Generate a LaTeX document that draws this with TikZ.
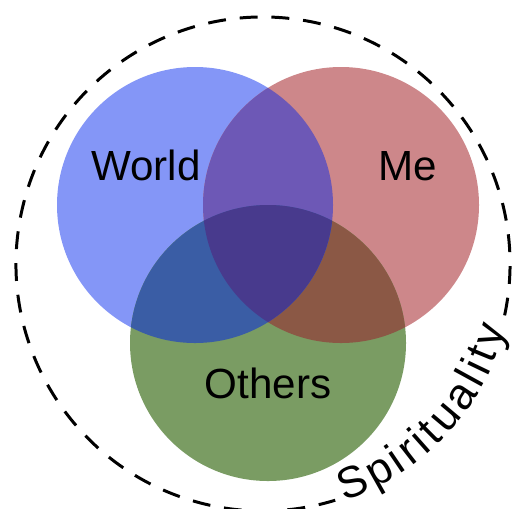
\documentclass[tikz,border=0pt]{standalone}
\usepackage{fontspec}
\setmainfont{Liberation Sans}
\usepackage{tikz}
\usetikzlibrary{decorations.text}
\definecolor{worldblue}{RGB}{132,150,247}
\definecolor{mered}{RGB}{205,135,138}
\definecolor{othersgreen}{RGB}{122,156,99}
\definecolor{worldme}{RGB}{109,88,182}
\definecolor{worldothers}{RGB}{58,93,165}
\definecolor{meothers}{RGB}{139,88,69}
\definecolor{allthree}{RGB}{72,58,141}
\newcommand{\spiritfont}{\fontsize{25}{30}\selectfont}
\tikzset{vennlabel/.style={anchor=base, inner sep=0pt, font=\fontsize{24}{28}\selectfont, text=black}, spiritline/.style={draw=black, line width=1.7pt, dash pattern=on 10.2pt off 7.9pt}}

\begin{document}
\begin{tikzpicture}[x=0.02cm, y=0.02cm]
\useasboundingbox (0,0) rectangle (516,-508);
\coordinate (world) at (195,-205);
\coordinate (me) at (341,-205);
\coordinate (others) at (268,-343);
\coordinate (spirit) at (263,-264);
% circles and overlaps
\fill[worldblue] (world) circle[radius=138];
\fill[mered] (me) circle[radius=138];
\fill[othersgreen] (others) circle[radius=138];
\begin{scope}
\clip (me) circle[radius=138];
\fill[meothers] (others) circle[radius=138];
\end{scope}
\begin{scope}
\clip (world) circle[radius=138];
\fill[worldme] (me) circle[radius=138];
\fill[worldothers] (others) circle[radius=138];
\clip (me) circle[radius=138];
\fill[allthree] (others) circle[radius=138];
\end{scope}
\node[vennlabel] (worldlabel) at (146,-180) {World};
\node[vennlabel] (melabel) at (408,-180) {Me};
\node[vennlabel] (otherslabel) at (268,-398) {Others};
% outer ring
\draw[spiritline] ([shift={(-12:247)}]spirit) arc[start angle=-12, end angle=287, radius=247];
\path[decorate, decoration={text along path, text={|\spiritfont|Spirituality}, text align={fit to path}}] ([shift={(-71:251)}]spirit) arc[start angle=-71, end angle=-15, radius=251];
\end{tikzpicture}
\end{document}
